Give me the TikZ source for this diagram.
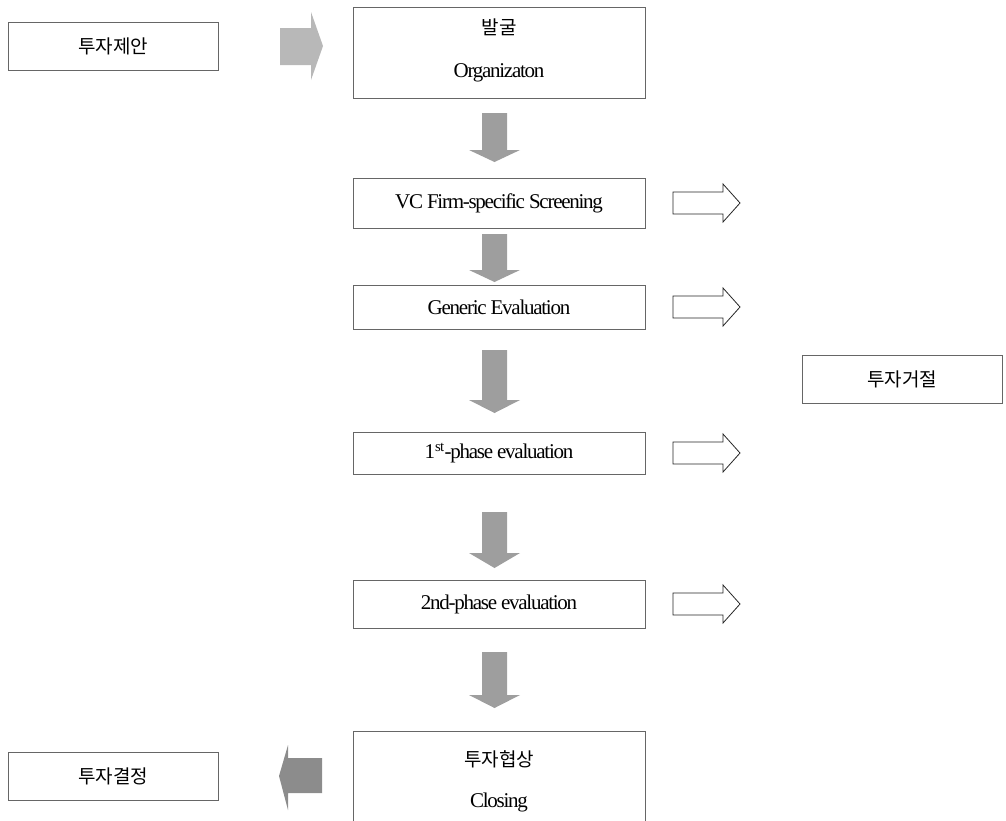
\documentclass[tikz,border=0pt]{standalone}
\usepackage{fontspec}
\setmainfont{Liberation Serif}
\newfontfamily\kr{Noto Sans CJK KR}
\begin{document}
\begin{tikzpicture}[x=1pt,y=-1pt,
  box/.style={draw=black!60,line width=0.7pt,inner sep=0pt,rectangle,fill=white},
  en/.style={inner sep=0pt,font={\fontsize{21}{24}\selectfont\addfontfeature{LetterSpace=-6}}},
  ko/.style={inner sep=0pt,font={\kr\fontsize{19}{22}\selectfont}},
  garrow/.style={fill=black!38,draw=none},
  oarrow/.style={draw=black!85,line width=0.8pt,fill=white,line join=miter}]
\useasboundingbox (0,0) rectangle (1006,820);
% boxes
\node[box,minimum width=210pt,minimum height=48pt] (prop) at (113,46) {};
\node[box,minimum width=292pt,minimum height=91pt] (org) at (499,52.5) {};
\node[box,minimum width=292pt,minimum height=50pt] (vc) at (499,203) {};
\node[box,minimum width=292pt,minimum height=44pt] (gen) at (499,307) {};
\node[box,minimum width=292pt,minimum height=42pt] (pone) at (499,453) {};
\node[box,minimum width=292pt,minimum height=48pt] (ptwo) at (499,604) {};
\node[box,minimum width=292pt,minimum height=118pt] (clo) at (499,790) {};
\node[box,minimum width=210pt,minimum height=48pt] (dec) at (113,776) {};
\node[box,minimum width=200pt,minimum height=48pt] (rej) at (902,379) {};
% texts
\node[ko] (tprop) at (prop.center) {투자제안};
\node[ko] (torga) at (499,27) {발굴};
\node[en] (torgb) at (499,73) {Organizaton};
\node[en] (tvc) at (vc.center) {VC Firm-specific Screening};
\node[en] (tgen) at (gen.center) {Generic Evaluation};
\node[en] (tpone) at (pone.center) {1\textsuperscript{st}-phase evaluation};
\node[en] (tptwo) at (ptwo.center) {2nd-phase evaluation};
\node[ko] (tcloa) at (499,759) {투자협상};
\node[en] (tclob) at (499,802) {Closing};
\node[ko] (tdec) at (dec.center) {투자결정};
\node[ko] (trej) at (rej.center) {투자거절};
% gray block arrows
\fill[garrow,fill=black!28] (280,28) -- (311,28) -- (311,12) -- (323,46) -- (311,80) -- (311,65) -- (280,65) -- cycle;
\fill[garrow,fill=black!45] (322,758) -- (288,758) -- (288,745) -- (279,776) -- (288,810) -- (288,793) -- (322,793) -- cycle;
\foreach \t/\h/\p in {113/150/162, 234/270/282, 350/400/413, 512/553/568, 652/695/708}{
  \fill[garrow] (482,\t) -- (507,\t) -- (507,\h) -- (520,\h) -- (494.5,\p) -- (469,\h) -- (482,\h) -- cycle;
}
% outline arrows to rejection
\foreach \c in {203,307,453,604}{
  \draw[oarrow] (673,\c-11) -- (723,\c-11) -- (723,\c-19) -- (740,\c) -- (723,\c+19) -- (723,\c+11) -- (673,\c+11) -- cycle;
}
\end{tikzpicture}
\end{document}
